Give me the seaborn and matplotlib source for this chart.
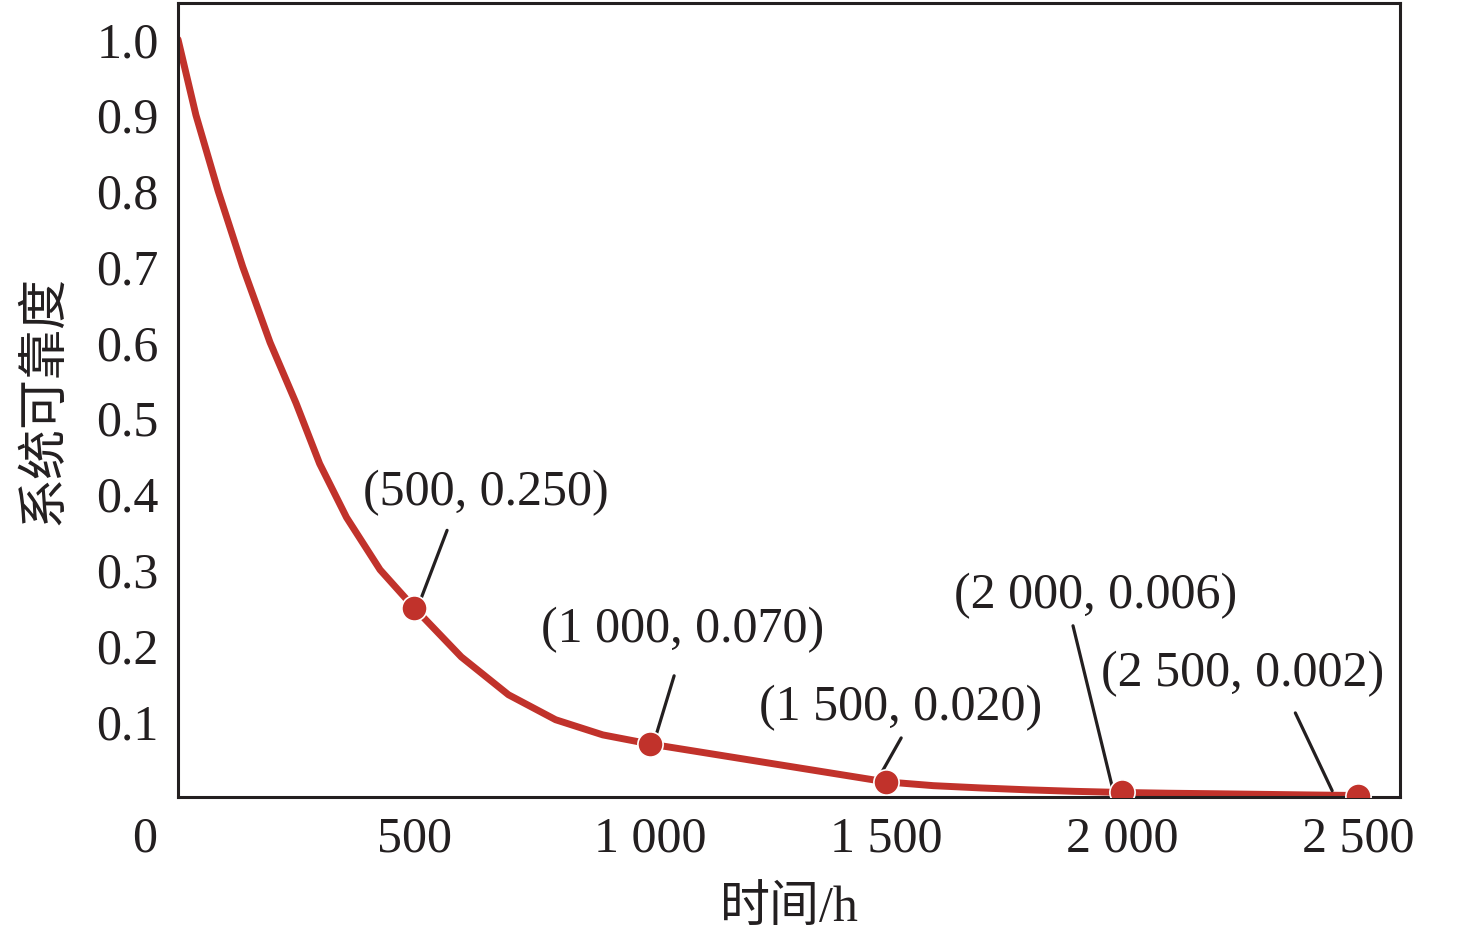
import matplotlib
matplotlib.use("Agg")
import matplotlib.pyplot as plt
import seaborn as sns

# courbe de fiabilite
time_h = [0, 38, 85, 137, 195, 250, 300, 357, 428, 500, 600, 700, 800, 900, 1000,
          1100, 1200, 1300, 1400, 1500, 1600, 1700, 1800, 1900, 2000,
          2100, 2200, 2300, 2400, 2500]
reliab = [1.0, 0.90, 0.80, 0.70, 0.60, 0.52, 0.44, 0.369, 0.30, 0.25, 0.185, 0.135,
          0.102, 0.082, 0.070, 0.060, 0.050, 0.040, 0.030, 0.020, 0.015, 0.012,
          0.0095, 0.0075, 0.006, 0.005, 0.0043, 0.0035, 0.0027, 0.002]

# points marques
pt_time = [500, 1000, 1500, 2000, 2500]
pt_rel = [0.250, 0.070, 0.020, 0.006, 0.002]
pt_labels = ["(500, 0.250)", "(1 000, 0.070)", "(1 500, 0.020)",
             "(2 000, 0.006)", "(2 500, 0.002)"]

x_ticks = [500, 1000, 1500, 2000, 2500]
x_ticklabels = ["500", "1 000", "1 500", "2 000", "2 500"]
y_ticks = [0.1, 0.2, 0.3, 0.4, 0.5, 0.6, 0.7, 0.8, 0.9, 1.0]
y_ticklabels = ["0.1", "0.2", "0.3", "0.4", "0.5", "0.6", "0.7", "0.8", "0.9", "1.0"]

sns.set_style("white")
plt.rcParams['font.family'] = ['Liberation Serif', 'Noto Sans CJK SC']

red = "#c1322b"
ink = "#231f20"

fig = plt.figure(figsize=(14.76, 9.39), dpi=100)
ax = fig.add_axes([0.1206, 0.1512, 0.828, 0.8456])

sns.lineplot(x=time_h, y=reliab, ax=ax, color=red, lw=5, sort=False,
             solid_joinstyle="round", solid_capstyle="round")
sns.scatterplot(x=pt_time, y=pt_rel, ax=ax, color=red, s=330, edgecolor="white",
                linewidth=1.2, zorder=4)

# positions des etiquettes et des traits de rappel
label_pos = [(652, 0.401), (1068, 0.220), (1530, 0.118), (1943, 0.266), (2256, 0.163)]
line_start = [(570, 0.352), (1051, 0.160), (1532, 0.078), (1896, 0.226), (2367, 0.111)]
line_end = [(513, 0.259), (1011, 0.078), (1483, 0.024), (1979, 0.0137), (2445, 0.0084)]

for lab, pos, s, e in zip(pt_labels, label_pos, line_start, line_end):
    ax.text(pos[0], pos[1], lab, ha="center", va="center", fontsize=36, color=ink)
    ax.annotate("", xy=e, xytext=s,
                arrowprops=dict(arrowstyle="-", lw=2.3, color=ink, shrinkA=0, shrinkB=0))

ax.set_xlim(0, 2589)
ax.set_ylim(0, 1.048)
ax.set_xticks(x_ticks)
ax.set_xticklabels(x_ticklabels)
ax.set_yticks(y_ticks)
ax.set_yticklabels(y_ticklabels)
ax.tick_params(direction="in", length=8.5, width=1.8, color=ink, labelsize=36,
               labelcolor=ink, pad=14, top=False, right=False)

# le "0" de l'origine, decale vers la gauche
ax.annotate("0", xy=(0, 0), xycoords=("data", "axes fraction"), xytext=(-24, -14),
            textcoords="offset points", ha="center", va="top", fontsize=36, color=ink)

for sp in ax.spines.values():
    sp.set_linewidth(2.2)
    sp.set_color(ink)

ax.set_xlabel("时间/h", fontsize=36, color=ink, labelpad=16)
ax.set_ylabel("系统可靠度", fontsize=36, color=ink, labelpad=20)

fig.savefig("out.png", dpi=100)
